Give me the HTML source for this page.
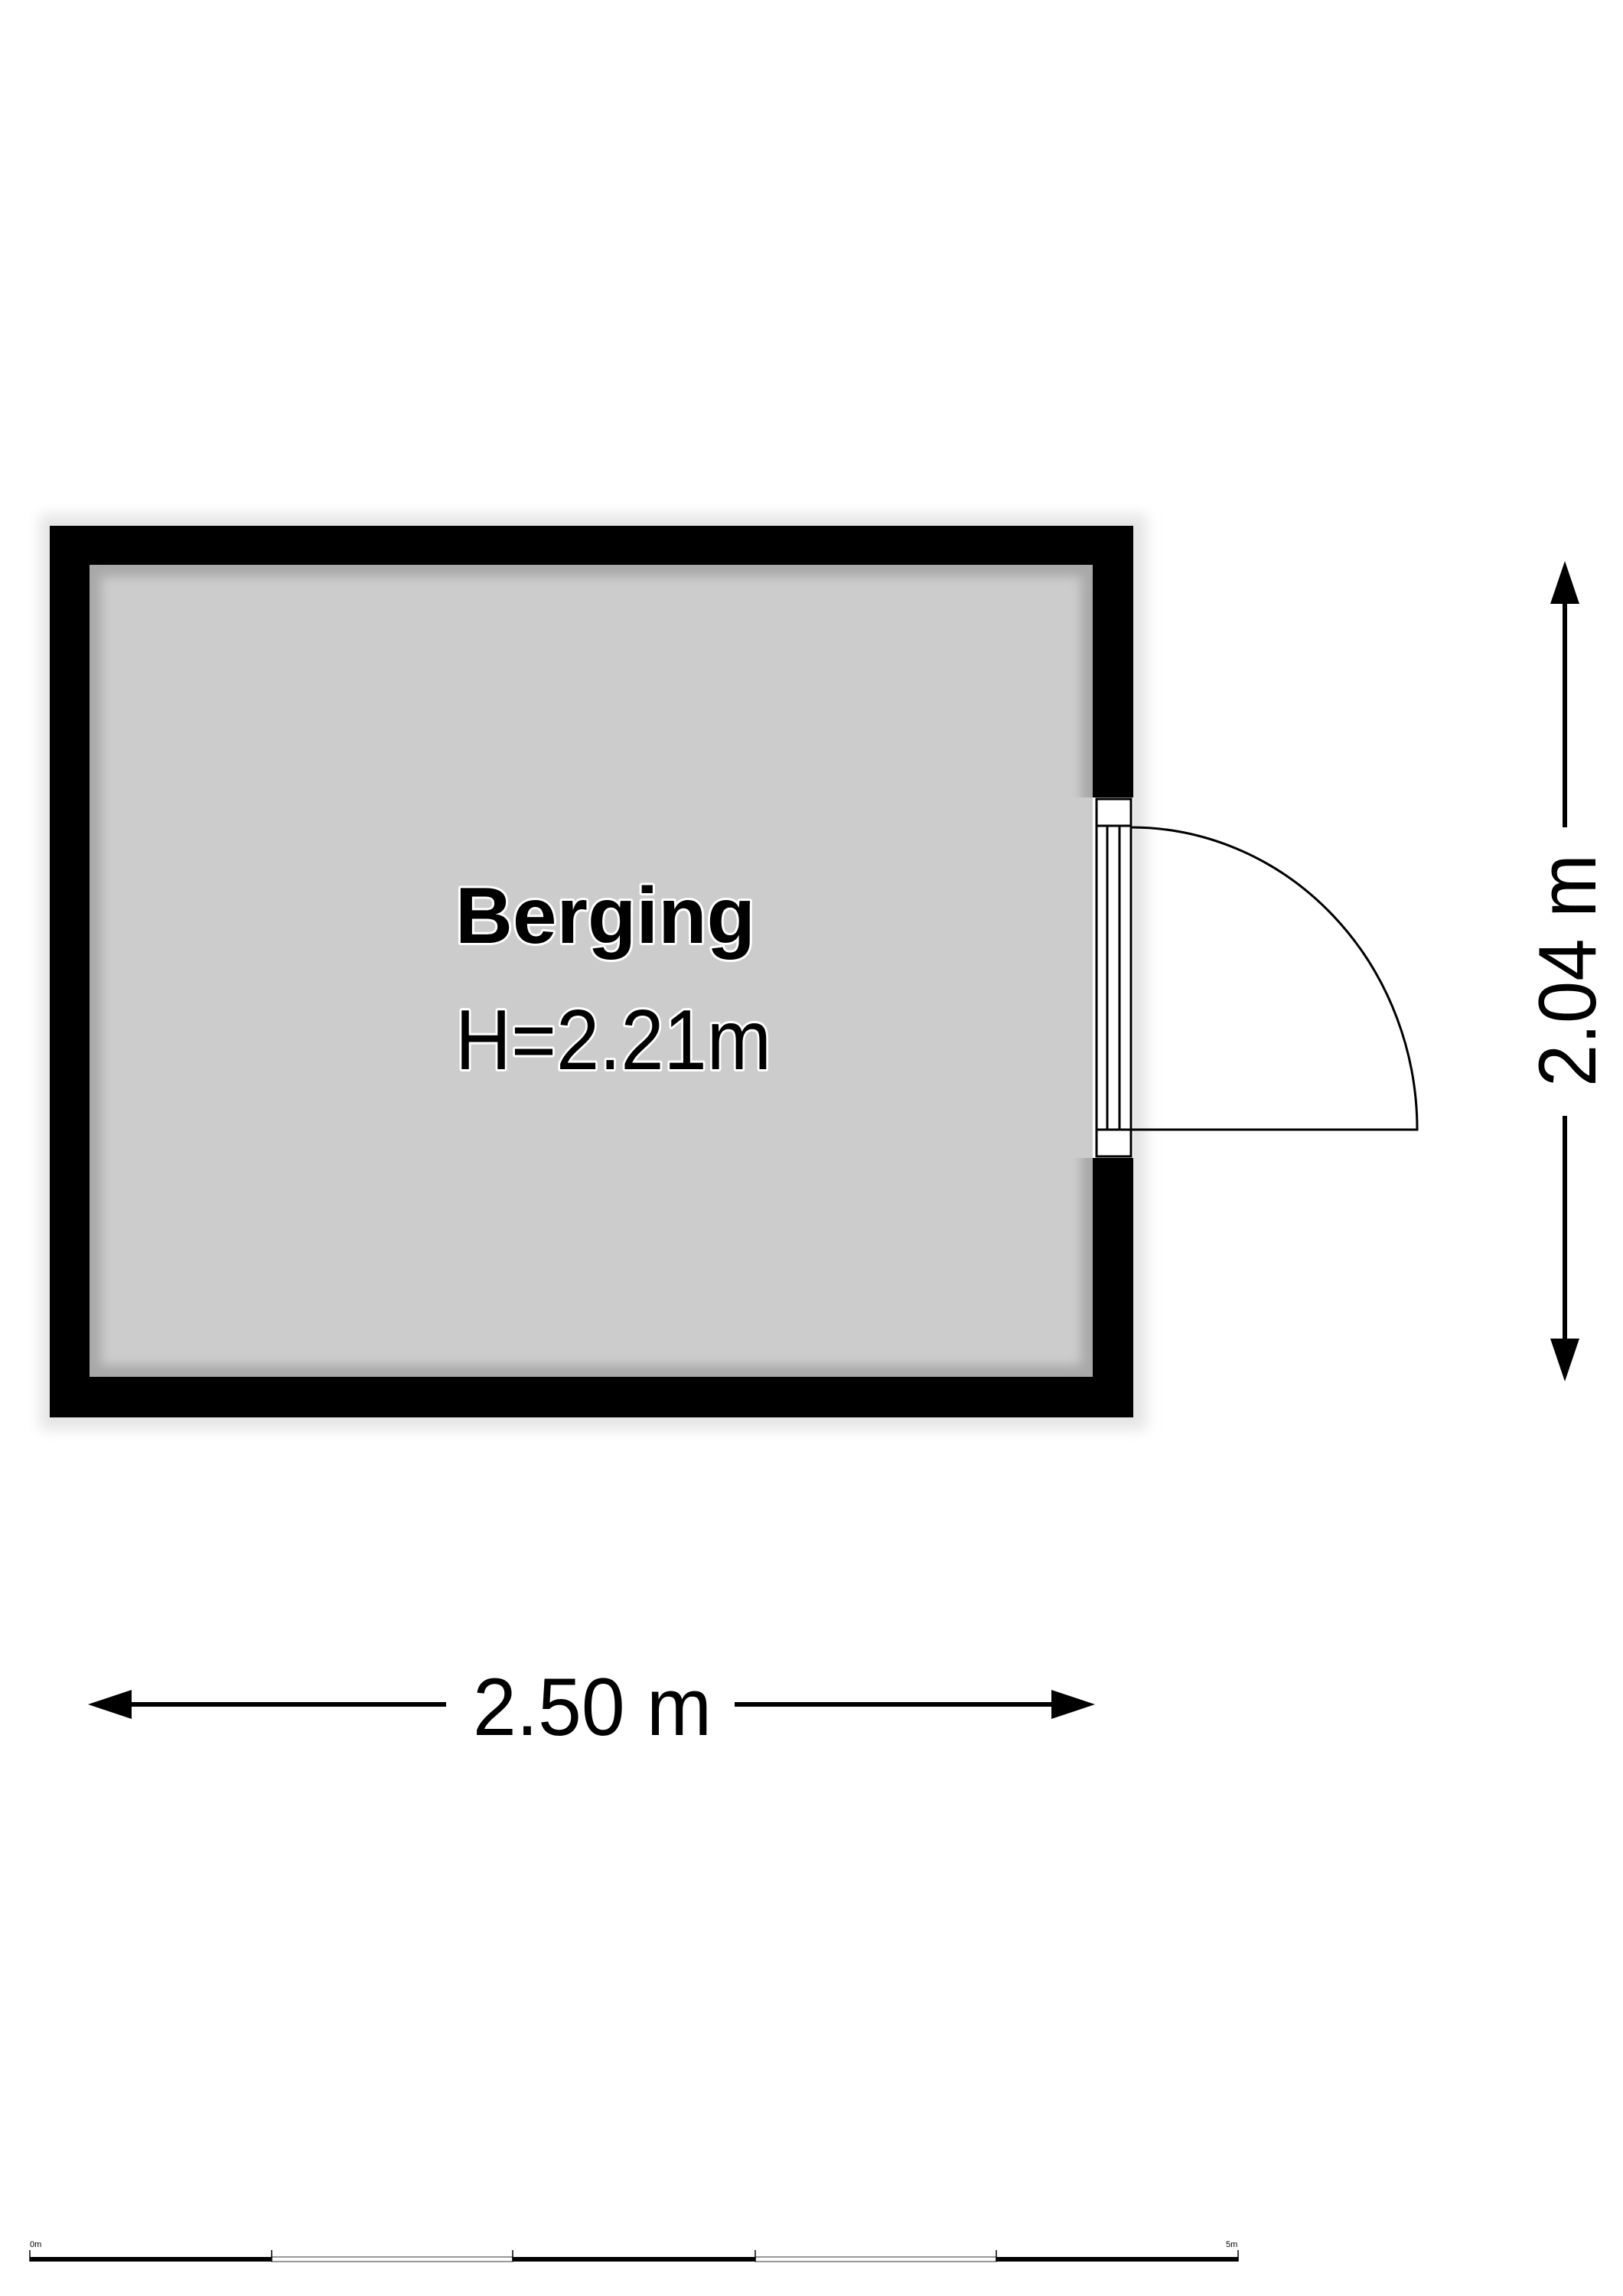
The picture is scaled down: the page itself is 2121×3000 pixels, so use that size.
<!DOCTYPE html>
<html><head><meta charset="utf-8"><style>
html,body{margin:0;padding:0;background:#fff;}
svg{display:block;}
</style></head><body>
<svg width="2121" height="3000" viewBox="0 0 2121 3000" xmlns="http://www.w3.org/2000/svg">
<defs>
<filter id="blur" x="-5%" y="-5%" width="110%" height="110%"><feGaussianBlur stdDeviation="9"/></filter>
<filter id="blur2" x="-5%" y="-5%" width="110%" height="110%"><feGaussianBlur stdDeviation="7"/></filter>
</defs>
<rect x="52" y="672" width="1446" height="1196" fill="#e4e4e4" filter="url(#blur)"/>
<rect x="65" y="687" width="1416" height="1165" fill="#000"/>
<rect x="117" y="738" width="1311" height="1061" fill="#a8a8a8"/>
<rect x="132" y="753" width="1281" height="1031" fill="#cccccc" filter="url(#blur2)"/>
<!-- door opening -->
<rect x="1428" y="1042" width="53" height="471" fill="#fff"/>
<rect x="1400" y="1042" width="28" height="471" fill="#cccccc"/>
<rect x="1433" y="1044" width="45" height="467" fill="#fff" stroke="#000" stroke-width="3"/>
<line x1="1433" y1="1079" x2="1478" y2="1079" stroke="#000" stroke-width="3"/>
<line x1="1433" y1="1476" x2="1478" y2="1476" stroke="#000" stroke-width="3"/>
<line x1="1447" y1="1079" x2="1447" y2="1476" stroke="#000" stroke-width="3"/>
<line x1="1463" y1="1079" x2="1463" y2="1476" stroke="#000" stroke-width="3"/>
<path d="M1478 1081 A374 395 0 0 1 1852 1476 L1478 1476" fill="none" stroke="#000" stroke-width="3"/>
<g font-family="'Liberation Sans', Arial, sans-serif" fill="#000" stroke="#fff" stroke-width="6" paint-order="stroke" stroke-linejoin="round">
<text x="595" y="1232" font-size="104" font-weight="bold" textLength="392" lengthAdjust="spacingAndGlyphs">Berging</text>
<text x="595" y="1397" font-size="111" textLength="413" lengthAdjust="spacingAndGlyphs">H=2.21m</text>
</g>
<g stroke="#000" stroke-width="6">
<line x1="2045" y1="780" x2="2045" y2="1081"/>
<line x1="2045" y1="1458" x2="2045" y2="1760"/>
</g>
<polygon points="2045,733 2064,789 2026,789" fill="#000"/>
<polygon points="2045,1805 2064,1749 2026,1749" fill="#000"/>
<text transform="translate(2085,1420) rotate(-90)" font-family="'Liberation Sans', Arial, sans-serif" font-size="107" fill="#000" textLength="304" lengthAdjust="spacingAndGlyphs">2.04 m</text>
<g stroke="#000" stroke-width="6">
<line x1="160" y1="2227" x2="583" y2="2227"/>
<line x1="960" y1="2227" x2="1390" y2="2227"/>
</g>
<polygon points="115,2227 172,2208 172,2246" fill="#000"/>
<polygon points="1431,2227 1374,2208 1374,2246" fill="#000"/>
<text x="618" y="2267" font-family="'Liberation Sans', Arial, sans-serif" font-size="107" fill="#000" textLength="312" lengthAdjust="spacingAndGlyphs">2.50 m</text>
<g>
<rect x="39" y="2949" width="316" height="6" fill="#000"/>
<rect x="355" y="2949" width="315" height="6" fill="#fff" stroke="#777" stroke-width="1.5"/>
<rect x="670" y="2949" width="317" height="6" fill="#000"/>
<rect x="987" y="2949" width="315" height="6" fill="#fff" stroke="#777" stroke-width="1.5"/>
<rect x="1302" y="2949" width="316" height="6" fill="#000"/>
<g stroke="#000" stroke-width="1.5">
<line x1="39" y1="2940" x2="39" y2="2955"/>
<line x1="355" y1="2940" x2="355" y2="2955"/>
<line x1="670" y1="2940" x2="670" y2="2955"/>
<line x1="987" y1="2940" x2="987" y2="2955"/>
<line x1="1302" y1="2940" x2="1302" y2="2955"/>
<line x1="1618" y1="2940" x2="1618" y2="2955"/>
</g>
<text x="39" y="2936" font-family="'Liberation Sans', Arial, sans-serif" font-size="11" fill="#000">0m</text>
<text x="1602" y="2936" font-family="'Liberation Sans', Arial, sans-serif" font-size="11" fill="#000">5m</text>
</g>
</svg>
</body></html>
